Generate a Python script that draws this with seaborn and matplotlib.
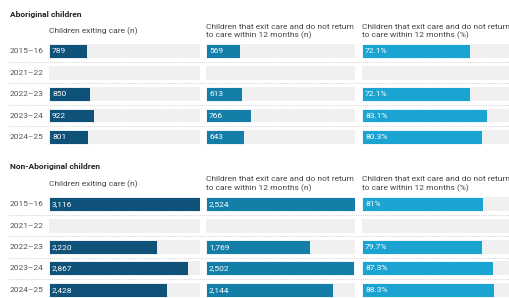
import matplotlib
matplotlib.use("Agg")
import matplotlib.pyplot as plt
import numpy as np
import pandas as pd
import seaborn as sns

years = ["2015–16", "2021–22", "2022–23", "2023–24", "2024–25"]

abor_exiting = [789, np.nan, 850, 922, 801]
abor_no_return = [569, np.nan, 613, 766, 643]
abor_pct = [72.1, np.nan, 72.1, 83.1, 80.3]

nonabor_exiting = [3116, np.nan, 2220, 2867, 2428]
nonabor_no_return = [2524, np.nan, 1769, 2502, 2144]
nonabor_pct = [81.0, np.nan, 79.7, 87.3, 88.3]

group_titles = ["Aboriginal children", "Non-Aboriginal children"]
col_headers = [
    "Children exiting care (n)",
    "Children that exit care and do not return\nto care within 12 months (n)",
    "Children that exit care and do not return\nto care within 12 months (%)",
]
col_colors = ["#0e5279", "#137fa8", "#1ba3d1"]
col_max = [3116, 2524, 100]

W, H = 509, 298

sns.set_theme(style="white")
plt.rcParams["font.family"] = ["Roboto", "DejaVu Sans"]

fig = plt.figure(figsize=(W / 100, H / 100), dpi=100)


def px_axes(x0, y0, x1, y1):
    # pixel box (top-left origin) -> figure axes
    return fig.add_axes([x0 / W, 1 - y1 / H, (x1 - x0) / W, (y1 - y0) / H])


def fmt(v, pct):
    if pct:
        return f"{v:g}%"
    return f"{int(v):,}"


col_x = [(49, 200), (206, 355), (362, 512)]
groups = [
    (abor_exiting, abor_no_return, abor_pct),
    (nonabor_exiting, nonabor_no_return, nonabor_pct),
]
group_top = [40.6, 193.5]
title_y = [14, 166]
pitch = 21.4

for g, series in enumerate(groups):
    top = group_top[g]
    bottom = top + pitch * len(years)

    # full-width strip with dotted separators and year labels
    base = px_axes(9, top, W, bottom)
    base.set_xlim(0, 1)
    base.set_ylim(len(years) - 0.5, -0.5)
    base.axis("off")
    for k in range(len(years) - 1):
        base.axhline(k + 0.5, color="#cfcfcf", lw=0.7, ls=(0, (1, 1.3)))
    for k, yr in enumerate(years):
        base.text(0.002, k, yr, va="center", ha="left", fontsize=6, color="#555555")

    fig.text(10 / W, 1 - title_y[g] / H, group_titles[g], fontsize=6,
             fontweight="bold", color="#222222", va="center", ha="left")

    for c, vals in enumerate(series):
        x0, x1 = col_x[c]
        ax = px_axes(x0, top, x1, bottom)
        df = pd.DataFrame({"year": years, "value": vals, "bg": col_max[c]})
        sns.barplot(data=df, y="year", x="bg", color="#f0f0f0", width=0.65,
                    ax=ax, saturation=1, linewidth=0)
        sns.barplot(data=df, y="year", x="value", color=col_colors[c], width=0.65,
                    ax=ax, saturation=1, linewidth=0.6, edgecolor="#ffffff")
        ax.set_xlim(0, col_max[c])
        ax.set_ylim(len(years) - 0.5, -0.5)
        ax.axis("off")
        for k, v in enumerate(vals):
            if not np.isnan(v):
                ax.annotate(fmt(v, c == 2), (0, k), xytext=(2.2, 0),
                            textcoords="offset points", va="center", ha="left",
                            fontsize=6, color="white")
        fig.text(x0 / W, 1 - (top - 9.5) / H, col_headers[c], fontsize=6,
                 color="#444444", va="center", ha="left", linespacing=1.25)

fig.savefig("out.png", dpi=100)
